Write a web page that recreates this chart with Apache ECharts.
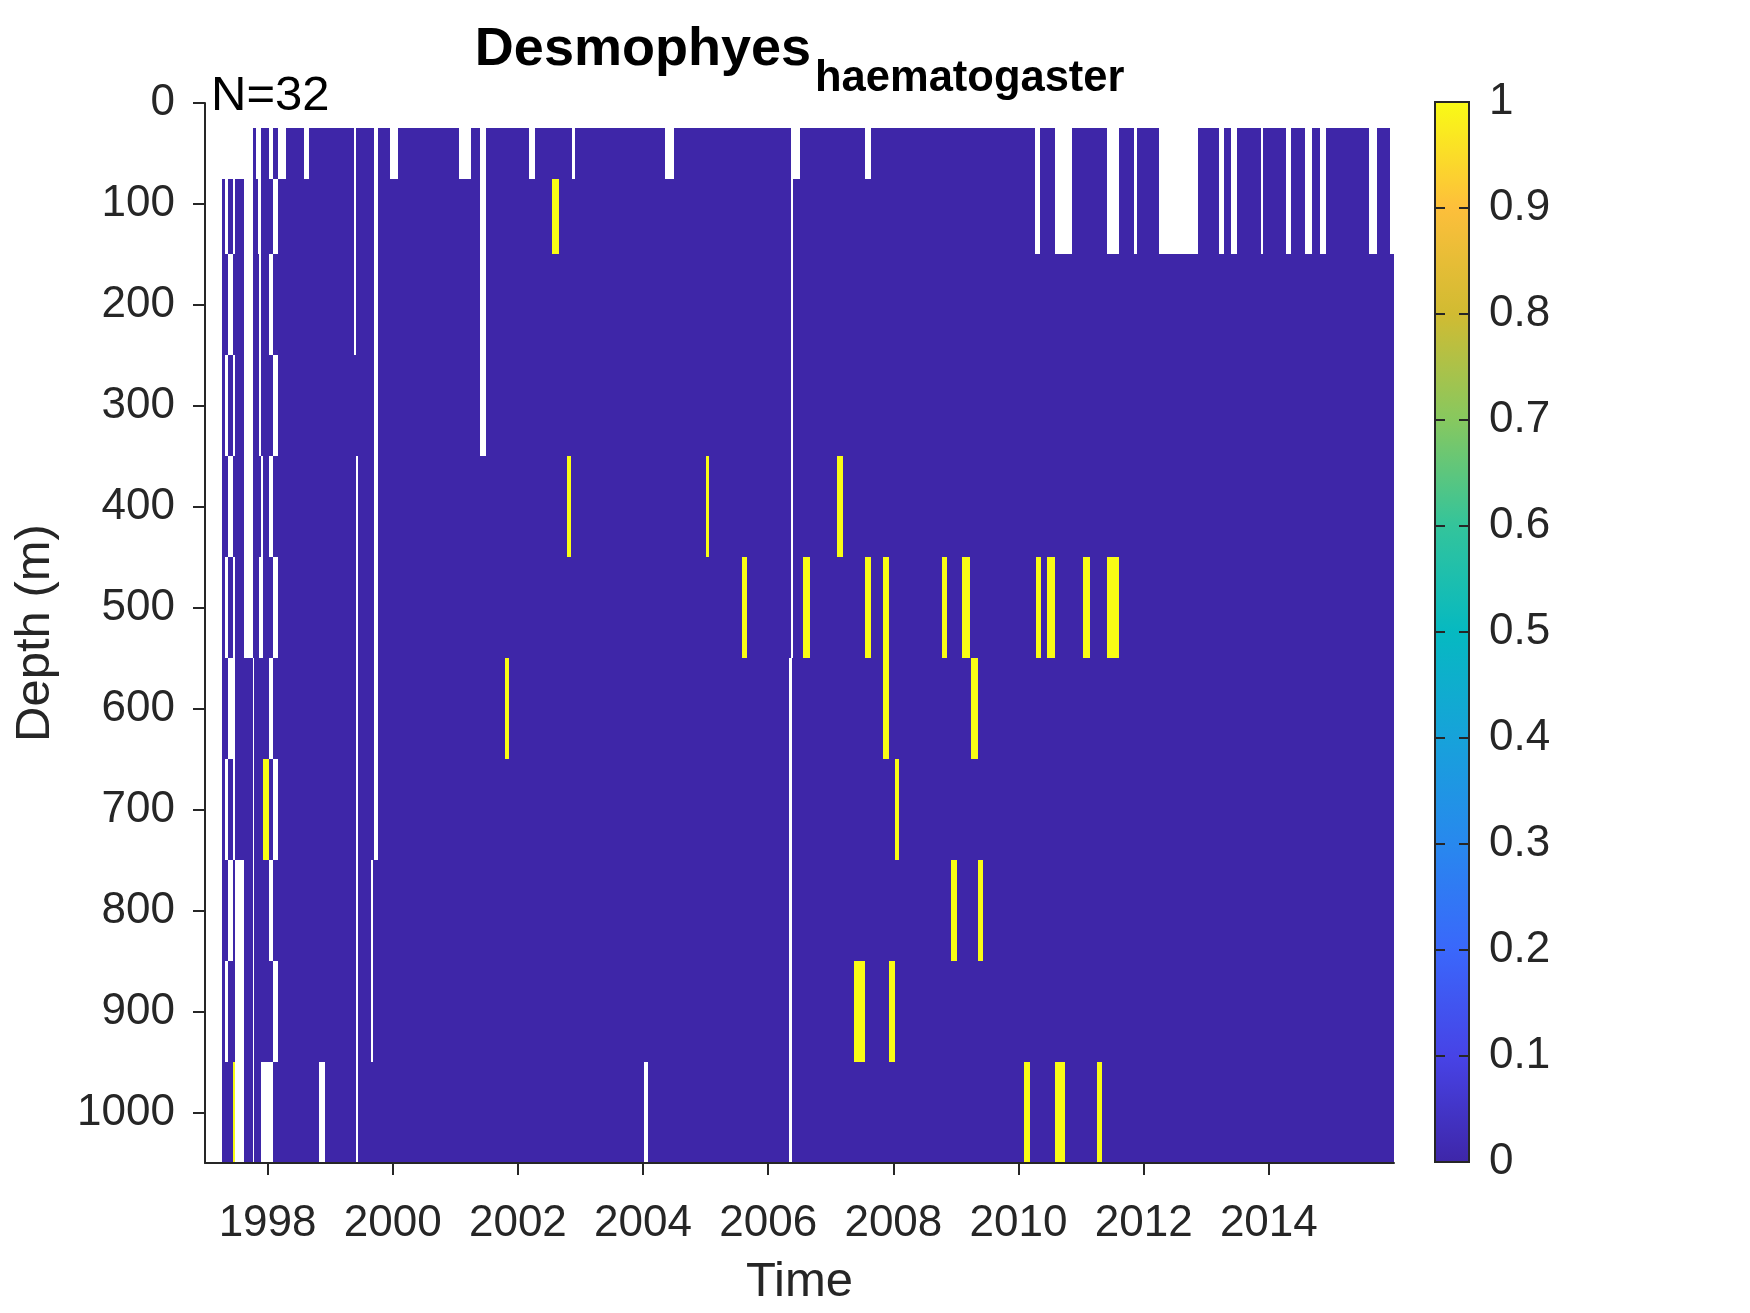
<!DOCTYPE html>
<html>
<head>
<meta charset="UTF-8">
<script src="https://cdn.jsdelivr.net/npm/echarts@6/dist/echarts.min.js"></script>
<style>
  html, body { margin: 0; padding: 0; background: #ffffff; }
  #heatPlot { width: 1750px; height: 1313px; }
</style>
</head>
<body>
<div id="heatPlot"></div>
<script type="text/javascript">
// Sampling depths (m) and the cell edges between them.
const depths = [50, 100, 200, 300, 400, 500, 600, 700, 800, 900, 1000];
const depthEdges = [25, 75, 150, 250, 350, 450, 550, 650, 750, 850, 950, 1050];
const depthTicks = [0, 100, 200, 300, 400, 500, 600, 700, 800, 900, 1000];

// Time span of the record (decimal years) and the labelled years.
const timeRange = [1997.0, 2016.0];
const yearTicks = [1998, 2000, 2002, 2004, 2006, 2008, 2010, 2012, 2014];

// Colour bar ticks.
const colorTicks = [0, 0.1, 0.2, 0.3, 0.4, 0.5, 0.6, 0.7, 0.8, 0.9, 1];

// Periods without a sample (NaN), one list per depth.
const noData = [
    [[1997.0, 1997.77], [1997.81, 1997.89], [1998.016, 1998.085], [1998.165, 1998.29], [1998.58, 1998.66],
     [1999.38, 1999.42], [1999.70, 1999.76], [1999.95, 2000.08], [2001.06, 2001.25], [2001.39, 2001.49],
     [2002.17, 2002.28], [2002.86, 2002.92], [2004.35, 2004.50], [2006.37, 2006.50], [2007.54, 2007.64],
     [2010.265, 2010.35], [2010.59, 2010.86], [2011.42, 2011.60], [2011.84, 2011.90], [2012.25, 2012.875],
     [2013.20, 2013.29], [2013.39, 2013.49], [2013.87, 2013.91], [2014.28, 2014.36], [2014.585, 2014.695],
     [2014.82, 2014.92], [2015.60, 2015.735], [2015.93, 2016.0]],
    [[1997.0, 1997.27], [1997.32, 1997.37], [1997.44, 1997.48], [1997.62, 1997.77], [1997.84, 1997.90],
     [1998.085, 1998.165], [1999.38, 1999.42], [1999.70, 1999.76], [2001.39, 2001.49], [2006.37, 2006.40],
     [2010.265, 2010.35], [2010.59, 2010.86], [2011.42, 2011.60], [2011.84, 2011.90], [2012.25, 2012.875],
     [2013.20, 2013.29], [2013.39, 2013.49], [2013.87, 2013.91], [2014.28, 2014.36], [2014.585, 2014.695],
     [2014.82, 2014.92], [2015.60, 2015.735], [2015.93, 2016.0]],
    [[1997.0, 1997.27], [1997.37, 1997.44], [1997.62, 1997.77], [1997.86, 1997.89], [1998.02, 1998.085],
     [1999.38, 1999.42], [1999.70, 1999.76], [2001.39, 2001.49], [2006.37, 2006.40]],
    [[1997.0, 1997.27], [1997.32, 1997.37], [1997.44, 1997.48], [1997.62, 1997.77], [1997.86, 1997.89],
     [1998.085, 1998.165], [1999.70, 1999.76], [2001.39, 2001.49], [2006.37, 2006.40]],
    [[1997.0, 1997.27], [1997.37, 1997.44], [1997.62, 1997.77], [1997.89, 1997.93], [1998.016, 1998.085],
     [1999.41, 1999.45], [1999.70, 1999.76], [2006.37, 2006.40]],
    [[1997.0, 1997.27], [1997.32, 1997.37], [1997.44, 1997.48], [1997.62, 1997.77], [1997.87, 1997.93],
     [1998.085, 1998.165], [1999.41, 1999.45], [1999.70, 1999.76], [2006.37, 2006.40]],
    [[1997.0, 1997.27], [1997.37, 1997.48], [1997.77, 1997.79], [1998.016, 1998.085], [1999.41, 1999.45],
     [1999.70, 1999.76], [2006.34, 2006.375]],
    [[1997.0, 1997.27], [1997.32, 1997.37], [1997.44, 1997.48], [1997.77, 1997.79], [1998.085, 1998.165],
     [1999.41, 1999.45], [1999.70, 1999.76], [2006.34, 2006.375]],
    [[1997.0, 1997.27], [1997.37, 1997.44], [1997.48, 1997.62], [1997.77, 1997.79], [1998.016, 1998.085],
     [1999.41, 1999.45], [1999.65, 1999.69], [2006.34, 2006.375]],
    [[1997.0, 1997.27], [1997.32, 1997.37], [1997.48, 1997.62], [1997.77, 1997.79], [1998.085, 1998.165],
     [1999.41, 1999.45], [1999.65, 1999.69], [2006.34, 2006.375]],
    [[1997.0, 1997.27], [1997.48, 1997.62], [1997.77, 1997.79], [1997.90, 1998.085], [1998.82, 1998.91],
     [1999.41, 1999.45], [2004.01, 2004.08], [2006.34, 2006.375]]
];

// Periods where the species was present (value 1), one list per depth.
const present = [
    [],
    [[2002.54, 2002.65]],
    [],
    [],
    [[2002.78, 2002.85], [2005.006, 2005.06], [2007.105, 2007.19]],
    [[2005.577, 2005.657], [2006.562, 2006.663], [2007.54, 2007.64], [2007.83, 2007.93], [2008.77, 2008.85],
     [2009.09, 2009.23], [2010.28, 2010.36], [2010.45, 2010.59], [2011.035, 2011.15], [2011.42, 2011.60]],
    [[2001.80, 2001.85], [2007.83, 2007.93], [2009.235, 2009.36]],
    [[1997.93, 1998.016], [2008.02, 2008.085]],
    [[2008.92, 2009.01], [2009.36, 2009.44]],
    [[2007.37, 2007.54], [2007.93, 2008.02]],
    [[1997.44, 1997.48], [2010.085, 2010.18], [2010.59, 2010.74], [2011.25, 2011.34]]
];

const sampleCount = 32;

// Parula colour map.
const parula = ['#3E26A8', '#4743E6', '#3A67FB', '#2888EE', '#17A2DA', '#06B9C1',
                '#33C49B', '#87C85F', '#D1BB32', '#FDBF3B', '#F9FB15'];
const fontName = '"Liberation Sans", Arial, Helvetica, sans-serif';
const ink = '#262626';

// Build cells [t0, t1, depthTop, depthBottom, value]; NaN periods are left empty.
const cells = [];
depths.forEach((d, i) => {
    const marks = noData[i].map(g => [g[0], g[1], null])
        .concat(present[i].map(g => [g[0], g[1], 1]))
        .sort((a, b) => a[0] - b[0]);
    let t = timeRange[0];
    marks.forEach(m => {
        if (m[0] > t) cells.push([t, m[0], depthEdges[i], depthEdges[i + 1], 0]);
        if (m[2] === 1) cells.push([m[0], m[1], depthEdges[i], depthEdges[i + 1], 1]);
        t = Math.max(t, m[1]);
    });
    if (t < timeRange[1]) cells.push([t, timeRange[1], depthEdges[i], depthEdges[i + 1], 0]);
});

function renderCell(params, api) {
    const a = api.coord([api.value(0), api.value(2)]);
    const b = api.coord([api.value(1), api.value(3)]);
    const x0 = Math.round(Math.min(a[0], b[0]));
    const x1 = Math.round(Math.max(a[0], b[0]));
    const y0 = Math.round(Math.min(a[1], b[1]));
    const y1 = Math.round(Math.max(a[1], b[1]));
    return {
        type: 'rect',
        shape: { x: x0, y: y0, width: Math.max(1, x1 - x0), height: y1 - y0 },
        style: { fill: api.value(4) === 1 ? parula[parula.length - 1] : parula[0] }
    };
}

// Colour bar: gradient box with ticks pointing inwards on both sides.
function renderColorbar(params, api) {
    const a = api.coord([0, api.value(0)]);
    const b = api.coord([1, api.value(1)]);
    const stops = parula.map((c, k) => ({ offset: k / (parula.length - 1), color: c }));
    const children = [{
        type: 'rect',
        shape: { x: a[0], y: b[1], width: b[0] - a[0], height: a[1] - b[1] },
        style: {
            fill: new echarts.graphic.LinearGradient(0, 1, 0, 0, stops),
            stroke: ink,
            lineWidth: 2
        }
    }];
    colorTicks.forEach(v => {
        const y = Math.round(api.coord([0, v])[1]);
        children.push({ type: 'line', shape: { x1: a[0], y1: y, x2: a[0] + 10, y2: y },
                        style: { stroke: ink, lineWidth: 2 } });
        children.push({ type: 'line', shape: { x1: b[0] - 10, y1: y, x2: b[0], y2: y },
                        style: { stroke: ink, lineWidth: 2 } });
    });
    return { type: 'group', children: children };
}

const chart = echarts.init(document.getElementById('heatPlot'), null, { renderer: 'canvas' });

const tickLabel = { color: ink, fontSize: 44, fontFamily: fontName };

const option = {
    backgroundColor: '#ffffff',
    animation: false,
    textStyle: { fontFamily: fontName },
    grid: [
        { left: 205, right: 356, top: 103, bottom: 150 },
        { left: 1435, width: 34, top: 102, height: 1060 }
    ],
    xAxis: [
        {
            type: 'value',
            gridIndex: 0,
            position: 'bottom',
            min: timeRange[0],
            max: timeRange[1],
            name: 'Time',
            nameLocation: 'middle',
            nameGap: 95,
            nameTextStyle: { color: ink, fontSize: 49, fontFamily: fontName },
            z: 5,
            axisLine: { show: true, onZero: false, lineStyle: { color: ink, width: 2 } },
            axisTick: { show: true, inside: false, length: 12, customValues: yearTicks,
                        lineStyle: { color: ink, width: 2 } },
            axisLabel: Object.assign({ margin: 39, customValues: yearTicks,
                                       formatter: v => String(v) }, tickLabel),
            splitLine: { show: false }
        },
        { type: 'value', gridIndex: 1, min: 0, max: 1, show: false }
    ],
    yAxis: [
        {
            type: 'value',
            gridIndex: 0,
            inverse: true,
            min: 0,
            max: 1050,
            name: 'Depth (m)',
            nameLocation: 'middle',
            nameRotate: 90,
            nameGap: 145,
            nameTextStyle: { color: ink, fontSize: 49, fontFamily: fontName },
            z: 5,
            axisLine: { show: true, onZero: false, lineStyle: { color: ink, width: 2 } },
            axisTick: { show: true, inside: false, length: 12, customValues: depthTicks,
                        lineStyle: { color: ink, width: 2 } },
            axisLabel: Object.assign({ margin: 30, customValues: depthTicks,
                                       formatter: v => String(v) }, tickLabel),
            splitLine: { show: false }
        },
        {
            type: 'value',
            gridIndex: 1,
            position: 'right',
            min: 0,
            max: 1,
            interval: 0.1,
            axisLine: { show: false },
            axisTick: { show: false },
            axisLabel: Object.assign({ margin: 20, formatter: v => String(+v.toFixed(1)) }, tickLabel),
            splitLine: { show: false }
        }
    ],
    series: [
        {
            name: 'presence',
            type: 'custom',
            xAxisIndex: 0,
            yAxisIndex: 0,
            renderItem: renderCell,
            encode: { x: [0, 1], y: [2, 3] },
            clip: true,
            data: cells
        },
        {
            name: 'colorbar',
            type: 'custom',
            xAxisIndex: 1,
            yAxisIndex: 1,
            renderItem: renderColorbar,
            data: [[0, 1]],
            silent: true
        }
    ],
    graphic: [
        {
            type: 'text', x: 811, y: 50,
            style: { text: 'Desmophyes', fill: '#000000', font: 'bold 54px ' + fontName,
                     align: 'right', verticalAlign: 'middle' }
        },
        {
            type: 'text', x: 815, y: 79,
            style: { text: 'haematogaster', fill: '#000000', font: 'bold 43.5px ' + fontName,
                     align: 'left', verticalAlign: 'middle' }
        },
        {
            type: 'text', x: 211, y: 96,
            style: { text: 'N=' + sampleCount, fill: '#000000', font: '49px ' + fontName,
                     align: 'left', verticalAlign: 'middle' }
        }
    ]
};

chart.setOption(option);
</script>
</body>
</html>
